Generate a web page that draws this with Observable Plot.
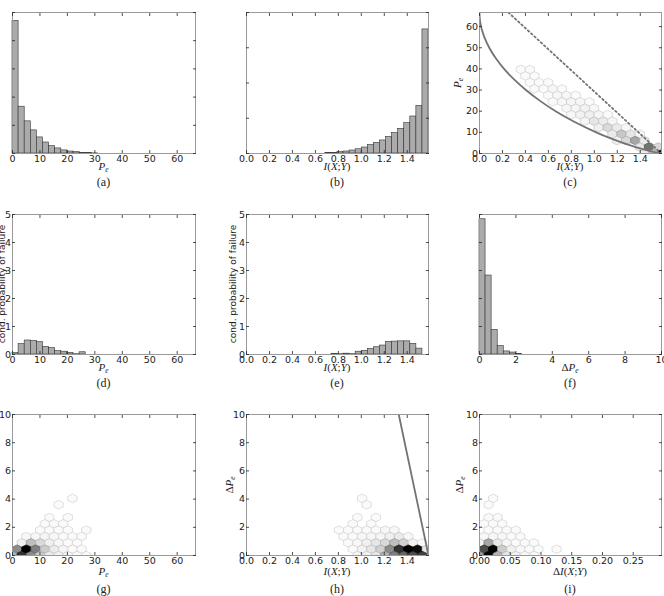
<!DOCTYPE html>
<html><head><meta charset="utf-8">
<script src="https://cdn.jsdelivr.net/npm/d3@7"></script>
<script src="https://cdn.jsdelivr.net/npm/@observablehq/plot@0.6"></script>
<style>
body{margin:0;background:#fff;}
#fig{position:relative;width:664px;height:596px;overflow:hidden;background:#fff;}
.lab{position:absolute;transform:translate(-50%,-50%);white-space:nowrap;color:#222;line-height:1;}
.math{font-family:"Liberation Serif","DejaVu Serif",serif;font-size:11px;}
.math i{font-style:italic;}
.math sub{font-size:7.5px;vertical-align:-0.3em;line-height:0;font-style:italic;}
.cap{font-family:"Liberation Serif",serif;font-size:12px;}
.rot{transform:translate(-50%,-50%) rotate(-90deg);}
.sans{font-family:"DejaVu Sans",sans-serif;font-size:9px;}
</style></head><body><div id="fig"></div>
<script>
// ---------- data ----------
const PE_MAX = 66.67;          // P_e axis range (percent)
const I_MAX = 1.585;           // log2(3)
const NBINS = 30;

// (a) histogram of P_e (30 bins over 0..66.67)
const histPe = [4.70,1.66,1.14,0.82,0.57,0.39,0.26,0.18,0.11,0.07,0.05,0.025,0.012,0.005];
// (b) histogram of I(X;Y) (30 bins over 0..1.585)
const histI = [0,0,0,0,0,0,0,0,0,0,0,0,0,0.01,0.019,0.038,0.057,0.085,0.12,0.17,0.24,0.30,0.37,0.47,0.58,0.70,0.86,1.05,1.35,3.52];
// (d) cond. probability of failure vs P_e
const condPe = [0.05,0.37,0.50,0.48,0.44,0.27,0.23,0.12,0.10,0.06,0.01,0.08];
// (e) cond. probability of failure vs I(X;Y)
const condI = [0,0,0,0,0,0,0,0,0,0,0,0,0,0,0.02,0.01,0.03,0.01,0.10,0.13,0.20,0.26,0.32,0.45,0.46,0.47,0.47,0.38,0.21,0];
// (f) histogram of delta P_e (30 bins over 0..10)
const histDP = [4.83,2.82,0.88,0.30,0.11,0.07,0.02];

// (c) bound curves
const fanoPe = [66.67,65,63,60,58,55,50,45,40,35,30,25,20,15,10,7,5,3,1,0];
const fanoI  = [0,0.001,0.004,0.014,0.0235,0.042,0.085,0.142,0.214,0.301,0.404,0.524,0.663,0.825,1.016,1.149,1.249,1.361,1.494,1.585];
const upperI  = [0.252,1.585];
const upperPe = [66.67,0];
// (h) bound line
const hLineI  = [1.326,1.585];
const hLineDP = [10,0];

// hexbin cells: [row m, column k, shade 0..1]
const hexC = [[13,4,.02],[13,5,.02],[12,5,.02],[12,6,.02],[11,5,.02],[11,6,.02],[11,7,.02],
 [10,6,.02],[10,7,.02],[10,8,.03],[10,9,.02],[9,7,.02],[9,8,.03],[9,9,.03],[9,10,.02],
 [8,8,.02],[8,9,.03],[8,10,.04],[8,11,.03],[8,12,.02],[7,9,.03],[7,10,.04],[7,11,.05],[7,12,.03],
 [6,10,.03],[6,11,.05],[6,12,.06],[6,13,.04],[6,14,.02],[5,11,.04],[5,12,.10],[5,13,.08],[5,14,.04],
 [4,13,.06],[4,14,.15],[4,15,.08],[4,16,.03],[3,14,.08],[3,15,.22],[3,16,.10],[3,17,.03],
 [2,15,.06],[2,16,.15],[2,17,.35],[2,18,.08],[1,17,.10],[1,18,.55],[1,19,.15],
 [0,18,.08],[0,19,.25],[0,20,1.0]];
const hexG = [[9,6,.02],[8,5,.02],[6,4,.02],[6,6,.02],[5,3,.02],[5,4,.02],[5,5,.02],
 [4,3,.02],[4,4,.02],[4,5,.02],[4,6,.02],[4,8,.02],
 [3,1,.03],[3,2,.03],[3,3,.04],[3,4,.03],[3,5,.02],[3,6,.02],[3,7,.02],
 [2,1,.06],[2,2,.25],[2,3,.15],[2,4,.06],[2,5,.03],[2,6,.02],[2,7,.02],
 [1,0,.45],[1,1,1.0],[1,2,.5],[1,3,.2],[1,4,.08],[1,5,.04],[1,6,.02],[1,7,.02],
 [0,0,.3],[0,1,.8],[0,2,.45],[0,3,.2],[0,4,.08],[0,5,.05],[0,6,.03],[0,7,.02],[0,8,.02]];
const hexH = [[9,12,.02],[8,13,.02],[6,12,.02],[6,14,.02],[5,11,.02],[5,13,.02],
 [4,10,.02],[4,11,.02],[4,12,.02],[4,13,.02],[4,14,.02],[4,15,.03],[4,16,.03],
 [3,10,.02],[3,11,.02],[3,12,.03],[3,13,.03],[3,14,.04],[3,15,.06],[3,16,.08],[3,17,.03],
 [2,11,.02],[2,12,.03],[2,13,.06],[2,14,.1],[2,15,.15],[2,16,.25],[2,17,.18],[2,18,.05],[2,19,.02],
 [1,11,.02],[1,12,.05],[1,13,.1],[1,14,.18],[1,15,.45],[1,16,.8],[1,17,1.0],[1,18,.95],[1,19,.1],
 [0,12,.03],[0,13,.05],[0,14,.1],[0,15,.3],[0,16,.5],[0,17,.6],[0,18,.7],[0,19,.75]];
const hexI = [[9,1,.02],[8,1,.02],[6,1,.02],[6,2,.02],[5,0,.02],[5,1,.02],[5,2,.02],
 [4,1,.02],[4,2,.02],[4,3,.02],[4,4,.02],[3,0,.03],[3,1,.03],[3,2,.03],[3,3,.02],[3,4,.02],
 [2,0,.05],[2,1,.35],[2,2,.1],[2,3,.04],[2,4,.02],[2,5,.02],[2,6,.02],
 [1,0,.7],[1,1,1.0],[1,2,.2],[1,3,.06],[1,4,.03],[1,5,.02],[1,6,.02],[1,8,.02],
 [0,0,.4],[0,1,1.0],[0,2,.3],[0,3,.1],[0,4,.05],[0,5,.02],[0,6,.02]];

// tick values
const ticksPe = [0,10,20,30,40,50,60];
const ticksI = [0,0.2,0.4,0.6,0.8,1.0,1.2,1.4];
const ticksDP = [0,2,4,6,8,10];
const ticksDI = [0,0.05,0.10,0.15,0.20,0.25];
const ticksY5 = [0,1,2,3,4,5];
const ticksY4 = [0,1,2,3,4];
const ticksY10 = [0,2,4,6,8,10];
const ticksPeY = [0,10,20,30,40,50,60];

// ---------- layout ----------
const fig = document.getElementById("fig");
const colX = [12, 246, 479], colW = [183, 182, 182];
const rowY = [12, 214, 414], rowH = [141, 140, 141];
const ML = 34, MR = 14, MT = 8, MB = 24;

function panel(c, r, xdom, ydom, marks) {
  const fw = colW[c], fh = rowH[r];
  const p = Plot.plot({
    width: fw + ML + MR, height: fh + MT + MB,
    marginLeft: ML, marginRight: MR, marginTop: MT, marginBottom: MB,
    style: {background: "transparent", overflow: "visible", fontFamily: "DejaVu Sans", fontSize: "9.5px", color: "#222"},
    x: {domain: xdom}, y: {domain: ydom},
    marks
  });
  p.style.position = "absolute";
  p.style.left = (colX[c] - ML) + "px";
  p.style.top = (rowY[r] - MT) + "px";
  p.style.maxWidth = "none";
  fig.appendChild(p);
}
const blank = () => "";
function axes(xt, yt, xfmt, yfmt) {
  const m = [
    Plot.frame({stroke: "#9a9a9a", strokeWidth: 1}),
    Plot.axisX({ticks: xt, anchor: "bottom", tickSize: -3, tickFormat: blank, label: null, strokeWidth: 0.8}),
    Plot.axisX({ticks: xt, anchor: "top", tickSize: -3, tickFormat: blank, label: null, strokeWidth: 0.8}),
    Plot.axisY({ticks: yt, anchor: "left", tickSize: -3, tickFormat: blank, label: null, strokeWidth: 0.8}),
    Plot.axisY({ticks: yt, anchor: "right", tickSize: -3, tickFormat: blank, label: null, strokeWidth: 0.8}),
    Plot.axisX({ticks: xt, anchor: "bottom", tickSize: 0, tickPadding: 1.5, tickFormat: xfmt, label: null})
  ];
  if (yfmt) m.push(Plot.axisY({ticks: yt, anchor: "left", tickSize: 0, tickPadding: 1.5, tickFormat: yfmt, label: null}));
  return m;
}
function bars(vals, lo, hi) {
  const w = (hi - lo) / NBINS;
  const data = vals.map((v, i) => ({x1: lo + i * w, x2: lo + (i + 1) * w, v})).filter(d => d.v > 0);
  return Plot.rect(data, {x1: "x1", x2: "x2", y1: 0, y2: "v", fill: "#ababab", stroke: "#333", strokeWidth: 0.6});
}
const gray = d3.interpolateRgb("#ffffff", "#000000");
function hexes(cells, sx, rowStep, xdom, ydom, c, r) {
  const rx = sx / 2 * colW[c] / (xdom[1] - xdom[0]);
  const ry = (2 * rowStep / 3) * rowH[r] / (ydom[1] - ydom[0]);
  const sym = {draw(ctx) {
    ctx.moveTo(0, -ry); ctx.lineTo(rx, -ry / 2); ctx.lineTo(rx, ry / 2);
    ctx.lineTo(0, ry); ctx.lineTo(-rx, ry / 2); ctx.lineTo(-rx, -ry / 2); ctx.closePath();
  }};
  const data = cells.map(([m, k, s]) => ({x: (k + (m % 2) * 0.5) * sx, y: m * rowStep, s}));
  return Plot.dot(data, {x: "x", y: "y", symbol: sym, r: 4,
    fill: d => gray(d.s), stroke: d => gray(Math.min(1, d.s + 0.16)), strokeWidth: 0.7, clip: true});
}
const fmtInt = d => String(d), fmt1 = d3.format(".1f"), fmt2 = d3.format(".2f");

// ---------- row 1 ----------
panel(0, 0, [0, PE_MAX], [0, 5], [bars(histPe, 0, PE_MAX), ...axes(ticksPe, ticksY5, fmtInt, null)]);
panel(1, 0, [0, I_MAX], [0, 4], [bars(histI, 0, I_MAX), ...axes(ticksI, ticksY4, fmt1, null)]);
panel(2, 0, [0, I_MAX], [0, PE_MAX], [
  hexes(hexC, 0.0798, 3.056, [0, I_MAX], [0, PE_MAX], 2, 0),
  Plot.line(fanoI.map((v, i) => ({x: v, y: fanoPe[i]})), {x: "x", y: "y", stroke: "#737373", strokeWidth: 1.8, curve: "catmull-rom", clip: true}),
  Plot.line(upperI.map((v, i) => ({x: v, y: upperPe[i]})), {x: "x", y: "y", stroke: "#737373", strokeWidth: 1.8, strokeDasharray: "1.6,2.8", clip: true}),
  ...axes(ticksI, ticksPeY, fmt1, fmtInt)]);

// ---------- row 2 ----------
panel(0, 1, [0, PE_MAX], [0, 5], [bars(condPe, 0, PE_MAX), ...axes(ticksPe, ticksY5, fmtInt, fmtInt)]);
panel(1, 1, [0, I_MAX], [0, 5], [bars(condI, 0, I_MAX), ...axes(ticksI, ticksY5, fmt1, fmtInt)]);
panel(2, 1, [0, 10], [0, 5], [bars(histDP, 0, 10), ...axes(ticksDP, ticksY5, fmtInt, null)]);

// ---------- row 3 ----------
panel(0, 2, [0, PE_MAX], [0, 10], [hexes(hexG, 3.36, 0.45, [0, PE_MAX], [0, 10], 0, 2), ...axes(ticksPe, ticksY10, fmtInt, fmtInt)]);
panel(1, 2, [0, I_MAX], [0, 10], [
  hexes(hexH, 0.0805, 0.45, [0, I_MAX], [0, 10], 1, 2),
  Plot.line(hLineI.map((v, i) => ({x: v, y: hLineDP[i]})), {x: "x", y: "y", stroke: "#737373", strokeWidth: 1.8, clip: true}),
  ...axes(ticksI, ticksY10, fmt1, fmtInt)]);
panel(2, 2, [0, 0.296], [0, 10], [hexes(hexI, 0.01475, 0.45, [0, 0.296], [0, 10], 2, 2), ...axes(ticksDI, ticksY10, fmt2, fmtInt)]);

// ---------- labels ----------
function lab(html, x, y, cls) {
  const s = document.createElement("span");
  s.className = "lab " + cls; s.innerHTML = html;
  s.style.left = x + "px"; s.style.top = y + "px";
  fig.appendChild(s);
}
const PE = "<i>P</i><sub>e</sub>", IXY = "<i>I</i>(<i>X</i>;<i>Y</i>)";
const xLabY = [166, 367, 571], capY = [182, 383, 589];
const cx = [103.5, 337, 570];
const xLabels = [[PE, IXY, IXY], [PE, IXY, "Δ" + PE], [PE, IXY, "Δ" + IXY]];
xLabels.forEach((row, r) => row.forEach((t, c) => lab(t, cx[c], xLabY[r], "math")));
const caps = [["(a)", "(b)", "(c)"], ["(d)", "(e)", "(f)"], ["(g)", "(h)", "(i)"]];
caps.forEach((row, r) => row.forEach((t, c) => lab(t, cx[c], capY[r], "cap")));
lab(PE, 457, 82.5, "math rot");
lab("cond. probability of failure", 1.7, 284, "sans rot");
lab("cond. probability of failure", 233, 284, "sans rot");
lab("Δ" + PE, 229, 484.5, "math rot");
lab("Δ" + PE, 459, 484.5, "math rot");
</script></body></html>
